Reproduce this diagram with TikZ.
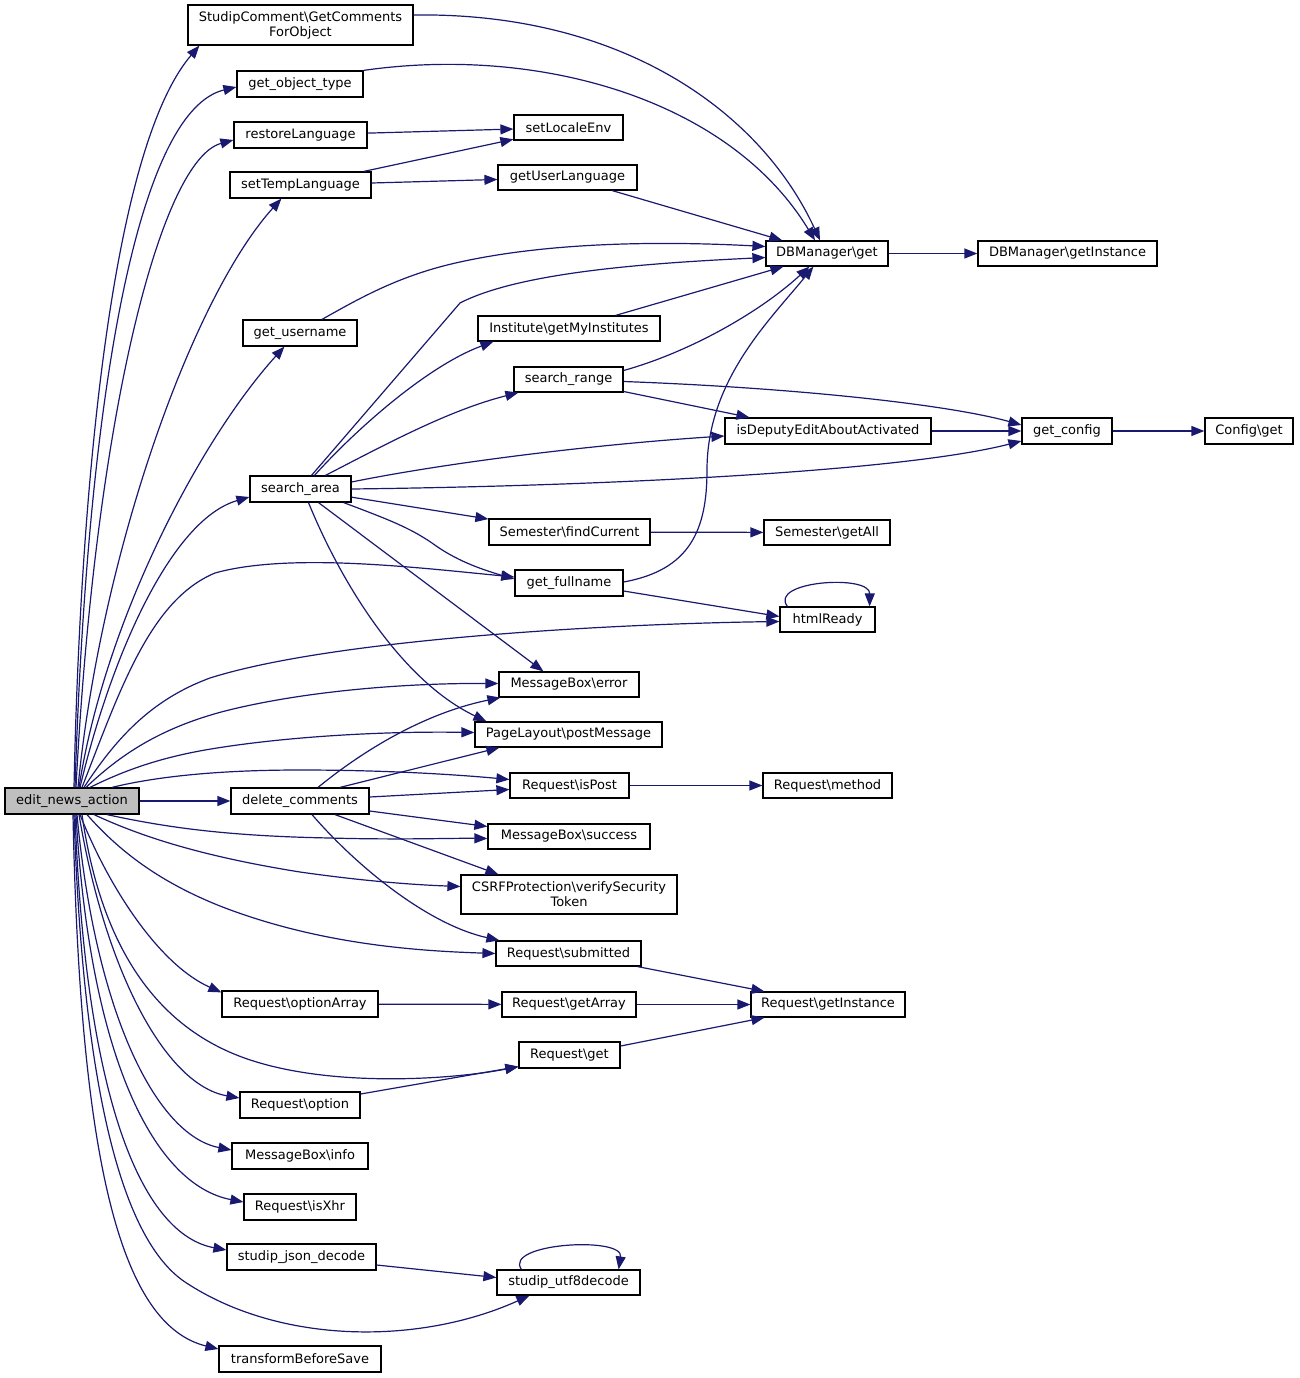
\documentclass[tikz,border=0pt]{standalone}
\usepackage{fontspec}
\setmainfont{DejaVu Sans}
\usetikzlibrary{arrows.meta,calc}
\definecolor{edgec}{HTML}{191970}
\definecolor{graybox}{HTML}{BFBFBF}
\begin{document}
\begin{tikzpicture}[x=1pt,y=-1pt,
  box/.style={draw=black,line width=1.2pt,fill=white,inner sep=0pt,minimum height=26pt,
    font=\fontsize{13}{15}\selectfont,align=center},
  edge/.style={draw=edgec,line width=1.2pt,-{Triangle[length=13pt,width=10pt]}}]
\fill[white] (0,0) rectangle (1299,1378);
\useasboundingbox (0,0) rectangle (1299,1378);
% column 1
\node[box,fill=graybox,minimum width=134pt] (E) at (72,801) {edit\_news\_action};
% column 2
\node[box,minimum width=225pt,minimum height=40pt] (SC) at (300.5,25) {StudipComment\textbackslash GetComments\\ForObject};
\node[box,minimum width=126pt] (GOT) at (300,84) {get\_object\_type};
\node[box,minimum width=133pt] (RL) at (300.5,135) {restoreLanguage};
\node[box,minimum width=141pt] (STL) at (300.5,185) {setTempLanguage};
\node[box,minimum width=114pt] (GU) at (300,333) {get\_username};
\node[box,minimum width=101pt] (SA) at (300.5,489) {search\_area};
\node[box,minimum width=138pt] (DC) at (300,801) {delete\_comments};
\node[box,minimum width=156pt] (ROA) at (300,1004) {Request\textbackslash optionArray};
\node[box,minimum width=120pt] (RO) at (300,1105) {Request\textbackslash option};
\node[box,minimum width=136pt] (MBI) at (300,1156) {MessageBox\textbackslash info};
\node[box,minimum width=112pt] (RX) at (300,1207) {Request\textbackslash isXhr};
\node[box,minimum width=149pt] (SJD) at (301.5,1257) {studip\_json\_decode};
\node[box,minimum width=162pt] (TBS) at (300,1359) {transformBeforeSave};
% column 3
\node[box,minimum width=109pt,minimum height=25pt] (SLE) at (568.5,127.5) {setLocaleEnv};
\node[box,minimum width=139pt,minimum height=25pt] (GUL) at (567.5,177.5) {getUserLanguage};
\node[box,minimum width=182pt,minimum height=25pt] (IGMI) at (569,328.5) {Institute\textbackslash getMyInstitutes};
\node[box,minimum width=109pt,minimum height=25pt] (SR) at (568.5,379.5) {search\_range};
\node[box,minimum width=161pt] (SFC) at (569.5,532) {Semester\textbackslash findCurrent};
\node[box,minimum width=108pt] (GF) at (569,583) {get\_fullname};
\node[box,minimum width=140pt,minimum height=25pt] (MBE) at (569,684.5) {MessageBox\textbackslash error};
\node[box,minimum width=187pt,minimum height=25pt] (PLP) at (568.5,734.5) {PageLayout\textbackslash postMessage};
\node[box,minimum width=119pt,minimum height=25pt] (RIP) at (569.5,785.5) {Request\textbackslash isPost};
\node[box,minimum width=162pt,minimum height=25pt] (MBS) at (569,836.5) {MessageBox\textbackslash success};
\node[box,minimum width=216pt,minimum height=39pt] (CSRF) at (569,894.5) {CSRFProtection\textbackslash verifySecurity\\Token};
\node[box,minimum width=145pt,minimum height=25pt] (RS) at (568.5,953.5) {Request\textbackslash submitted};
\node[box,minimum width=134pt,minimum height=25pt] (RGA) at (569,1004.5) {Request\textbackslash getArray};
\node[box,minimum width=101pt] (RG) at (569.5,1055) {Request\textbackslash get};
\node[box,minimum width=143pt,minimum height=25pt] (SUD) at (568.5,1282.5) {studip\_utf8decode};
% column 4
\node[box,minimum width=122pt,minimum height=25pt] (DBG) at (827,253.5) {DBManager\textbackslash get};
\node[box,minimum width=206pt] (IDE) at (828,431) {isDeputyEditAboutActivated};
\node[box,minimum width=126pt,minimum height=25pt] (SGA) at (827,532.5) {Semester\textbackslash getAll};
\node[box,minimum width=95pt,minimum height=25pt] (HR) at (827.5,619.5) {htmlReady};
\node[box,minimum width=129pt,minimum height=25pt] (RM) at (827.5,785.5) {Request\textbackslash method};
\node[box,minimum width=154pt,minimum height=25pt] (RGI) at (828,1004.5) {Request\textbackslash getInstance};
% column 5/6
\node[box,minimum width=179pt,minimum height=25pt] (DBGI) at (1067.5,253.5) {DBManager\textbackslash getInstance};
\node[box,minimum width=90pt] (GC) at (1067,431) {get\_config};
\node[box,minimum width=88pt] (CG) at (1249,431) {Config\textbackslash get};
% edges from edit_news_action (upwards)
\draw[edge] ($(E.north)+(2,0)$) .. controls (80,500) and (110,150) .. ($(SC.south west)+(12,0)$);
\draw[edge] ($(E.north)+(3,0)$) .. controls (88,380) and (140,110) .. ($(GOT.west)+(0,3)$);
\draw[edge] ($(E.north)+(4,0)$) .. controls (95,420) and (160,160) .. ($(RL.west)+(0,5)$);
\draw[edge] ($(E.north)+(6,0)$) .. controls (100,560) and (190,300) .. ($(STL.south west)+(52,0)$);
\draw[edge] ($(E.north)+(7,0)$) .. controls (105,620) and (200,440) .. ($(GU.south west)+(42,0)$);
\draw[edge] ($(E.north)+(8,0)$) .. controls (110,660) and (170,520) .. ($(SA.west)+(0,8)$);
\draw[edge] ($(E.north)+(10,0)$) .. controls (120,690) and (150,600) .. (215,573) .. controls (290,552) and (420,568) .. ($(GF.west)+(0,-6)$);
\draw[edge] ($(E.north)+(12,0)$) .. controls (115,740) and (150,700) .. (210,678) .. controls (330,640) and (600,624) .. ($(HR.west)+(0,2)$);
\draw[edge] ($(E.north)+(14,0)$) .. controls (120,755) and (160,728) .. (225,711) .. controls (300,692) and (400,683) .. ($(MBE.west)+(0,-1)$);
\draw[edge] ($(E.north)+(18,0)$) .. controls (125,770) and (160,758) .. (205,750) .. controls (280,737) and (380,731) .. ($(PLP.west)+(0,-2)$);
\draw[edge] ($(E.north)+(40,0)$) .. controls (150,778) and (210,770) .. (300,770) .. controls (380,770) and (450,774) .. ($(RIP.west)+(0,-6)$);
\draw[edge] (E.east) -- (DC.west);
% edges from edit_news_action (downwards)
\draw[edge] ($(E.south)+(35,0)$) .. controls (160,826) and (220,836) .. (330,838) .. controls (400,840) and (450,838) .. ($(MBS.west)+(0,2)$);
\draw[edge] ($(E.south)+(22,0)$) .. controls (140,836) and (200,856) .. (300,872) .. controls (370,882) and (420,885) .. ($(CSRF.west)+(0,-8)$);
\draw[edge] ($(E.south)+(15,0)$) .. controls (120,852) and (160,882) .. (220,906) .. controls (320,945) and (420,951) .. (RS.west);
\draw[edge] ($(E.south)+(8,0)$) .. controls (110,890) and (160,965) .. ($(ROA.north west)+(0,2)$);
\draw[edge] ($(E.south)+(10,0)$) .. controls (100,940) and (150,1015) .. (225,1050) .. controls (310,1090) and (450,1080) .. ($(RG.south west)+(0,-2)$);
\draw[edge] ($(E.south)+(7,0)$) .. controls (105,970) and (165,1085) .. ($(RO.west)+(0,-7)$);
\draw[edge] ($(E.south)+(5,0)$) .. controls (95,1010) and (155,1135) .. ($(MBI.west)+(0,-6)$);
\draw[edge] ($(E.south)+(4,0)$) .. controls (90,1060) and (155,1185) .. ($(RX.west)+(0,-5)$);
\draw[edge] ($(E.south)+(3,0)$) .. controls (86,1110) and (145,1235) .. ($(SJD.west)+(0,-7)$);
\draw[edge] ($(E.south)+(2,0)$) .. controls (82,1060) and (115,1235) .. (185,1282) .. controls (280,1345) and (420,1345) .. ($(SUD.south west)+(33,0)$);
\draw[edge] ($(E.south)+(1,0)$) .. controls (80,1160) and (120,1325) .. ($(TBS.west)+(0,-10)$);
% other edges
\draw[edge] ($(SC.east)+(0,-10)$) .. controls (620,12) and (760,110) .. ($(DBG.north)+(-7,0)$);
\draw[edge] (GOT.north east) .. controls (540,45) and (730,100) .. ($(DBG.north)+(-12,0)$);
\draw[edge] (RL) -- (SLE);
\draw[edge] (STL) -- (SLE);
\draw[edge] (STL) -- (GUL);
\draw[edge] (GUL) -- (DBG);
\draw[edge] ($(GU.north)+(22,0)$) .. controls (360,298) and (400,275) .. (460,262) .. controls (560,240) and (680,242) .. ($(DBG.west)+(0,-7)$);
\draw[edge] ($(SA.north)+(11,0)$) -- (460,303) .. controls (520,272) and (650,263) .. ($(DBG.west)+(0,4)$);
\draw[edge] ($(SA.north)+(14,0)$) .. controls (360,425) and (430,365) .. ($(IGMI.south west)+(16,0)$);
\draw[edge] ($(SA.north)+(25,0)$) .. controls (390,442) and (450,410) .. ($(SR.south west)+(5,0)$);
\draw[edge] ($(SA.east)+(0,-7)$) .. controls (450,462) and (600,444) .. ($(IDE.west)+(0,5)$);
\draw[edge] (SA.east) .. controls (600,486) and (900,472) .. ($(GC.west)+(0,10)$);
\draw[edge] (SA) -- (SFC);
\draw[edge] ($(SA.south east)+(-8,0)$) .. controls (390,520) and (410,528) .. (432,543) .. controls (455,560) and (480,569) .. ($(GF.west)+(0,-4)$);
\draw[edge] ($(SA.south)+(18,0)$) -- ($(MBE.north west)+(45,0)$);
\draw[edge] ($(SA.south)+(8,0)$) .. controls (340,580) and (400,680) .. ($(PLP.north west)+(12,0)$);
\draw[edge] ($(IGMI.north east)+(-45,0)$) -- ($(DBG.south west)+(18,0)$);
\draw[edge] ($(SR.east)+(0,-9)$) .. controls (690,352) and (760,312) .. ($(DBG.south west)+(44,0)$);
\draw[edge] ($(SR.east)+(0,2)$) .. controls (800,388) and (950,405) .. ($(GC.west)+(0,-6)$);
\draw[edge] ($(SR.east)+(0,12)$) -- ($(IDE.north west)+(25,0)$);
\draw[edge] (IDE) -- (GC);
\draw[edge] (GC) -- (CG);
\draw[edge] (DBG) -- (DBGI);
\draw[edge] (SFC) -- (SGA);
\draw[edge] ($(GF.east)+(0,-1)$) .. controls (690,570) and (707,530) .. (707,470) .. controls (707,380) and (770,320) .. ($(DBG.south west)+(48,0)$);
\draw[edge] ($(GF.east)+(0,8)$) -- ($(HR.west)+(0,-3)$);
\draw[edge] ($(HR.north west)+(8,0)$) .. controls (768,581) and (870,574) .. ($(HR.north east)+(-6,0)$);
\draw[edge] ($(DC.north)+(18,0)$) .. controls (370,745) and (430,712) .. ($(MBE.south west)+(2,0)$);
\draw[edge] ($(DC.north)+(40,0)$) -- ($(PLP.south west)+(25,0)$);
\draw[edge] ($(DC.east)+(0,-4)$) -- ($(RIP.west)+(0,4)$);
\draw[edge] ($(DC.east)+(0,10)$) -- ($(MBS.west)+(0,-10)$);
\draw[edge] ($(DC.south)+(35,0)$) -- ($(CSRF.north west)+(38,0)$);
\draw[edge] ($(DC.south)+(12,0)$) .. controls (360,870) and (430,925) .. ($(RS.north west)+(4,0)$);
\draw[edge] (RIP) -- (RM);
\draw[edge] ($(RS.south east)+(-4,0)$) -- ($(RGI.north west)+(14,0)$);
\draw[edge] (ROA) -- (RGA);
\draw[edge] (RGA) -- (RGI);
\draw[edge] ($(RG.east)+(0,-9)$) -- ($(RGI.south west)+(14,0)$);
\draw[edge] ($(RO.east)+(0,-11)$) -- ($(RG.south west)+(0,-2)$);
\draw[edge] ($(SJD.east)+(0,8)$) -- ($(SUD.west)+(0,-5)$);
\draw[edge] ($(SUD.north west)+(25,0)$) .. controls (503,1243) and (624,1236) .. ($(SUD.north east)+(-22,0)$);
\end{tikzpicture}
\end{document}
